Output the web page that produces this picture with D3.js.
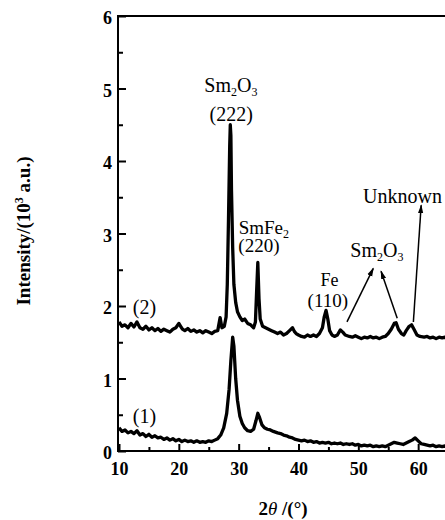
<!DOCTYPE html>
<html>
<head>
<meta charset="utf-8">
<script src="https://cdn.jsdelivr.net/npm/d3@7"></script>
<style>
  body { margin: 0; background: #fff; }
  svg { display: block; font-family: "Liberation Serif", "DejaVu Serif", serif; }
</style>
</head>
<body>
<div id="chart"></div>
<script>
// XRD patterns, 2theta (deg) vs intensity (10^3 a.u.)
var theta2 = [10, 10.5, 11, 11.5, 12, 12.5, 13, 13.5, 14, 14.5, 15, 15.5, 16, 16.5, 17, 17.5, 18, 18.5, 19, 19.5,
    20, 20.3, 20.6, 21, 21.5, 22, 22.5, 23, 23.5, 24, 24.5, 25, 25.5, 26, 26.5, 26.9, 27.2, 27.6, 27.9, 28.1,
    28.3, 28.5, 28.6, 28.7, 28.8, 29.0, 29.2, 29.5, 29.8, 30.2, 30.6, 31, 31.5, 32, 32.5, 32.8, 33.0, 33.2, 33.4, 33.6,
    34, 34.5, 35, 35.5, 36, 36.5, 37, 37.5, 38, 38.5, 39, 39.3, 39.6, 40, 40.5, 41, 41.5, 42, 42.5, 43,
    43.5, 44, 44.3, 44.6, 44.9, 45.2, 45.6, 46, 46.5, 47, 47.4, 47.8, 48.5, 49, 49.5, 50, 50.5, 51, 51.5, 52,
    52.5, 53, 53.5, 54, 54.5, 55, 55.5, 56, 56.3, 56.7, 57.2, 57.6, 58, 58.5, 58.9, 59.3, 59.8, 60.3, 61, 61.5,
    62, 62.5, 63, 63.5, 64, 64.5, 65];
var sample2 = [1.78, 1.72, 1.74, 1.70, 1.76, 1.71, 1.78, 1.70, 1.68, 1.72, 1.67, 1.70, 1.66, 1.69, 1.65, 1.68, 1.66, 1.64, 1.68, 1.70,
    1.76, 1.72, 1.68, 1.66, 1.69, 1.65, 1.67, 1.64, 1.66, 1.63, 1.66, 1.64, 1.62, 1.65, 1.66, 1.84, 1.70, 1.72, 1.85, 2.30,
    3.20, 4.20, 4.50, 4.35, 3.60, 2.80, 2.30, 2.05, 1.92, 1.85, 1.80, 1.82, 1.76, 1.74, 1.70, 1.78, 2.20, 2.60, 2.10, 1.82,
    1.72, 1.70, 1.68, 1.66, 1.64, 1.62, 1.64, 1.60, 1.62, 1.66, 1.70, 1.65, 1.62, 1.60, 1.58, 1.57, 1.60, 1.58, 1.60, 1.58,
    1.62, 1.70, 1.85, 1.94, 1.82, 1.66, 1.60, 1.58, 1.60, 1.67, 1.64, 1.60, 1.58, 1.57, 1.59, 1.57, 1.55, 1.57, 1.56, 1.58,
    1.56, 1.57, 1.55, 1.57, 1.58, 1.62, 1.68, 1.76, 1.77, 1.68, 1.62, 1.60, 1.66, 1.72, 1.74, 1.68, 1.60, 1.58, 1.57, 1.58,
    1.56, 1.57, 1.55, 1.57, 1.56, 1.57, 1.56];

var theta1 = [10, 10.5, 11, 11.5, 12, 12.5, 13, 13.5, 14, 14.5, 15, 15.5, 16, 16.5, 17, 17.5, 18, 18.5, 19, 19.5,
    20, 20.5, 21, 21.5, 22, 22.5, 23, 23.5, 24, 24.5, 25, 25.5, 26, 26.5, 27, 27.5, 28, 28.4, 28.7, 29.0,
    29.2, 29.5, 29.8, 30.2, 30.6, 31, 31.5, 32, 32.5, 32.9, 33.2, 33.5, 33.9, 34.3, 34.8, 35.3, 35.8, 36.5, 37, 37.5,
    38, 38.5, 39, 39.5, 40, 40.5, 41, 41.5, 42, 42.5, 43, 43.5, 44, 44.5, 45, 45.5, 46, 46.5, 47, 47.5,
    48, 48.5, 49, 49.5, 50, 50.5, 51, 51.5, 52, 52.5, 53, 53.5, 54, 54.5, 55, 55.5, 56, 56.5, 57, 57.5,
    58, 58.5, 59, 59.5, 60, 60.5, 61, 61.5, 62, 62.5, 63, 63.5, 64, 64.5, 65];
var sample1 = [0.32, 0.27, 0.29, 0.25, 0.27, 0.24, 0.28, 0.22, 0.24, 0.20, 0.23, 0.19, 0.21, 0.18, 0.19, 0.16, 0.18, 0.15, 0.17, 0.14,
    0.16, 0.13, 0.15, 0.13, 0.14, 0.12, 0.14, 0.12, 0.13, 0.12, 0.14, 0.13, 0.15, 0.17, 0.22, 0.32, 0.52, 0.85, 1.25, 1.57,
    1.45, 1.00, 0.70, 0.48, 0.38, 0.32, 0.28, 0.27, 0.30, 0.42, 0.52, 0.46, 0.36, 0.32, 0.30, 0.29, 0.27, 0.25, 0.24, 0.22,
    0.21, 0.19, 0.18, 0.16, 0.15, 0.14, 0.15, 0.13, 0.14, 0.12, 0.13, 0.11, 0.12, 0.11, 0.12, 0.10, 0.11, 0.10, 0.11, 0.09,
    0.10, 0.09, 0.10, 0.08, 0.09, 0.07, 0.08, 0.07, 0.08, 0.06, 0.07, 0.06, 0.07, 0.06, 0.08, 0.10, 0.12, 0.11, 0.10, 0.09,
    0.11, 0.13, 0.15, 0.18, 0.14, 0.10, 0.09, 0.08, 0.07, 0.08, 0.06, 0.07, 0.06, 0.07, 0.06];

var xTicks = [10, 20, 30, 40, 50, 60];
var yTicks = [0, 1, 2, 3, 4, 5, 6];

var svgWidth = 445;
var svgHeight = 520;

var x0 = 119, x1 = 478;   // x=10 .. x=70 (right part is cut off)
var y0 = 451, y1 = 16;

var svg = d3.select("#chart")
    .append("svg")
    .attr("width", svgWidth)
    .attr("height", svgHeight);

var xScale = d3.scaleLinear().domain([10, 70]).range([x0, x1]);
var yScale = d3.scaleLinear().domain([0, 6]).range([y0, y1]);

svg.append("defs").append("marker")
    .attr("id", "arrow")
    .attr("markerUnits", "userSpaceOnUse")
    .attr("viewBox", "0 -3 9 6")
    .attr("refX", 8)
    .attr("refY", 0)
    .attr("markerWidth", 9)
    .attr("markerHeight", 6)
    .attr("orient", "auto")
    .append("path")
    .attr("d", "M0,-2.6L9,0L0,2.6Z")
    .attr("fill", "#000");

// frame
svg.append("rect")
    .attr("x", x0 - 1)
    .attr("y", y1)
    .attr("width", x1 - x0 + 1)
    .attr("height", y0 - y1)
    .attr("fill", "none")
    .attr("stroke", "#000")
    .attr("stroke-width", 2);

// axes, ticks pointing inward
var xAxis = d3.axisBottom(xScale).tickValues(xTicks).tickSize(-7).tickPadding(11).tickFormat(d3.format("d"));
var xMinor = d3.axisBottom(xScale).tickValues([15, 25, 35, 45, 55, 65]).tickSize(-4).tickFormat("");
var yAxis = d3.axisLeft(yScale).tickValues(yTicks).tickSize(-8).tickPadding(6).tickFormat(d3.format("d"));
var yMinor = d3.axisLeft(yScale).tickValues([0.5, 1.5, 2.5, 3.5, 4.5, 5.5]).tickSize(-5).tickFormat("");

function styleAxis(g) {
    g.select(".domain").remove();
    g.selectAll("line").attr("stroke", "#000").attr("stroke-width", 2);
    g.selectAll("text")
        .attr("fill", "#000")
        .style("font-family", "'Liberation Serif', serif")
        .style("font-size", "18px")
        .style("font-weight", "bold");
}

svg.append("g").attr("transform", `translate(0, ${y0})`).call(xAxis).call(styleAxis);
svg.append("g").attr("transform", `translate(0, ${y0})`).call(xMinor).call(styleAxis);
svg.append("g").attr("transform", `translate(${x0 - 1}, 0)`).call(yAxis).call(styleAxis)
    .selectAll("text").attr("dy", "0.42em");
svg.append("g").attr("transform", `translate(${x0 - 1}, 0)`).call(yMinor).call(styleAxis);

// curves
var line = d3.line()
    .x(d => xScale(d[0]))
    .y(d => yScale(d[1]));

var series = [d3.zip(theta1, sample1), d3.zip(theta2, sample2)];

svg.append("clipPath").attr("id", "plotClip")
    .append("rect").attr("x", x0).attr("y", y1).attr("width", x1 - x0).attr("height", y0 - y1);

svg.append("g")
    .attr("clip-path", "url(#plotClip)")
    .selectAll("path")
    .data(series)
    .enter()
    .append("path")
    .attr("d", line)
    .attr("fill", "none")
    .attr("stroke", "#000")
    .attr("stroke-width", 3.3)
    .attr("stroke-linejoin", "round");

// annotations (positions in data units)
function label(xv, yv, anchor, size) {
    return svg.append("text")
        .attr("x", xScale(xv))
        .attr("y", yScale(yv))
        .attr("text-anchor", anchor)
        .attr("font-size", (size || 20) + "px")
        .attr("fill", "#000");
}

function subLabel(xv, yv, anchor, size, parts) {
    var t = label(xv, yv, anchor, size);
    parts.forEach(p => {
        if (p.sub) {
            t.append("tspan").attr("dy", 4).attr("font-size", "12px").text(p.text);
        } else {
            t.append("tspan").attr("dy", p.after ? -4 : 0).text(p.text);
        }
    });
    return t;
}

subLabel(28.7, 4.95, "middle", 20, [{text: "Sm"}, {text: "2", sub: true}, {text: "O", after: true}, {text: "3", sub: true}]);
label(28.75, 4.55, "middle", 20).text("(222)");

subLabel(30.0, 3.0, "start", 19, [{text: "SmFe"}, {text: "2", sub: true}]);
label(29.95, 2.74, "start", 19).text("(220)");

label(45.2, 2.28, "middle", 18).text("Fe");
label(44.9, 1.99, "middle", 19).text("(110)");

subLabel(53.1, 2.67, "middle", 20, [{text: "Sm"}, {text: "2", sub: true}, {text: "O", after: true}, {text: "3", sub: true}]);

label(50.8, 3.42, "start", 20).text("Unknown");

label(12.3, 1.89, "start", 20).text("(2)");
label(12.3, 0.39, "start", 20).text("(1)");

// arrows
var arrows = [
    [[48.1, 1.78], [52.5, 2.52]],
    [[56.5, 1.83], [53.8, 2.48]],
    [[59.2, 1.78], [60.5, 3.39]]
];

svg.selectAll("line.arrow")
    .data(arrows)
    .enter()
    .append("line")
    .classed("arrow", true)
    .attr("x1", d => xScale(d[0][0]))
    .attr("y1", d => yScale(d[0][1]))
    .attr("x2", d => xScale(d[1][0]))
    .attr("y2", d => yScale(d[1][1]))
    .attr("stroke", "#000")
    .attr("stroke-width", 1.5)
    .attr("marker-end", "url(#arrow)");

// axis titles
var xTitle = svg.append("text")
    .attr("x", 283)
    .attr("y", 515)
    .attr("text-anchor", "middle")
    .attr("font-size", "19px")
    .attr("font-weight", "bold");
xTitle.append("tspan").text("2");
xTitle.append("tspan").attr("font-style", "italic").attr("font-weight", "normal").text("θ");
xTitle.append("tspan").text(" /(°)");

var yTitle = svg.append("text")
    .attr("transform", "rotate(-90)")
    .attr("x", -231)
    .attr("y", 30)
    .attr("text-anchor", "middle")
    .attr("font-size", "19px")
    .attr("font-weight", "bold");
yTitle.append("tspan").text("Intensity/(10");
yTitle.append("tspan").attr("dy", -7).attr("font-size", "12px").text("3");
yTitle.append("tspan").attr("dy", 7).text(" a.u.)");
</script>
</body>
</html>
